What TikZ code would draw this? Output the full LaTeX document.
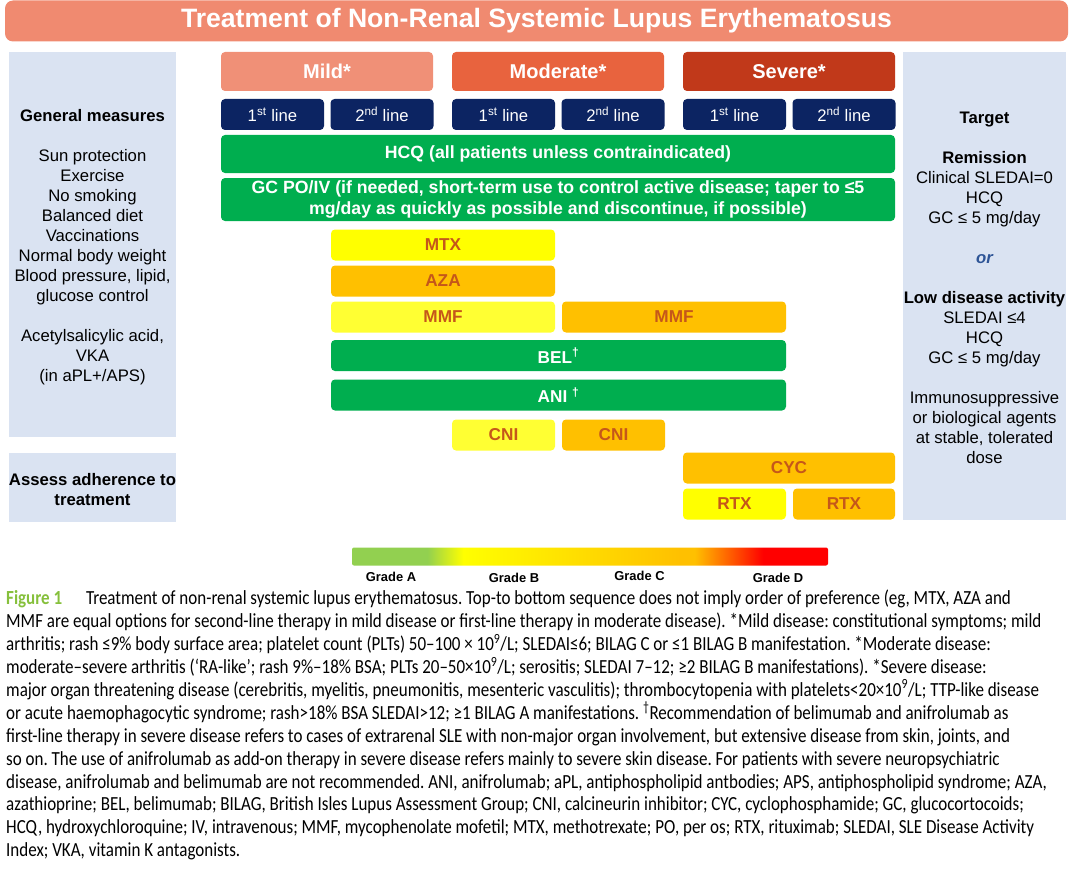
\documentclass[tikz,border=0pt]{standalone}
\usepackage{fontspec}
\setmainfont{Liberation Sans}
\newfontfamily\capfont[FakeStretch=0.85]{Carlito}
\usepackage{xcolor}
\definecolor{titlec}{HTML}{F08A70}
\definecolor{mildc}{HTML}{F09077}
\definecolor{moderatec}{HTML}{E8633E}
\definecolor{severec}{HTML}{C1391A}
\definecolor{navy}{HTML}{0C2462}
\definecolor{hcqgreen}{HTML}{00AE4F}
\definecolor{panelblue}{HTML}{DAE3F2}
\definecolor{gradeB}{HTML}{FFFF00}
\definecolor{gradeBl}{HTML}{FFFF33}
\definecolor{gradeC}{HTML}{FFC000}
\definecolor{gradeA}{HTML}{92D050}
\definecolor{drugtext}{HTML}{C5571A}
\definecolor{orblue}{HTML}{2E5597}
\definecolor{figgreen}{HTML}{86C03C}
\pgfdeclarehorizontalshading{gradescale}{100bp}{color(0bp)=(gradeA); color(32.9bp)=(gradeA); color(36.7bp)=(gradeB); color(59.5bp)=(gradeC); color(61bp)=(gradeC); color(68.2bp)=(red); color(100bp)=(red)}

\begin{document}
\begin{tikzpicture}[x=1pt,y=-1pt]
      \tikzstyle{every node}=[inner sep=0pt, font=\fontsize{16.7}{20}\selectfont]
      \tikzstyle{panel}=[fill=panelblue]
      \tikzstyle{head}=[rounded corners=4pt, text=white, minimum width=212pt, minimum height=39pt, font=\fontsize{20}{22}\selectfont\bfseries]
      \tikzstyle{lineno}=[rounded corners=4pt, fill=navy, text=white, minimum width=103pt, minimum height=31pt]
      \tikzstyle{therapy}=[rounded corners=4pt, fill=hcqgreen, text=white, minimum width=674pt, align=center, font=\fontsize{17.7}{21}\selectfont\bfseries]
      \tikzstyle{drug}=[rounded corners=4pt, text=drugtext, minimum height=31pt, font=\fontsize{17.2}{20}\selectfont\bfseries]
      \tikzstyle{grade}=[font=\fontsize{12.9}{14}\selectfont\bfseries]
      \useasboundingbox (0,0) rectangle (1073,872);

      \node[fill=titlec, rounded corners=8pt, minimum width=1063pt, minimum height=41pt, text=white, font=\fontsize{26.6}{28}\selectfont\bfseries] (title) at (536.5,21) {\raisebox{-1.5pt}{Treatment of Non-Renal Systemic Lupus Erythematosus}};

      \node[panel, minimum width=167pt, minimum height=385pt] (general) at (92.5,244.5) {};
      \node[align=center] (generaltext) at ([yshift=-3pt]general.center) {{\bfseries General measures}\\[20pt]
        Sun protection\\ Exercise\\ No smoking\\ Balanced diet\\ Vaccinations\\ Normal body weight\\ Blood pressure, lipid,\\ glucose control\\[20pt]
        Acetylsalicylic acid,\\ VKA\\ (in aPL+/APS)};
      \node[panel, minimum width=167pt, minimum height=69pt] (adherence) at (92.5,487.5) {};
      \node[align=center, font=\fontsize{16.7}{19.5}\selectfont\bfseries] (adherencetext) at ([yshift=-2pt]adherence.center) {Assess adherence to\\ treatment};
      \node[panel, minimum width=163pt, minimum height=468pt] (target) at (984.5,286) {};
      \node[align=center] (targettext) at ([yshift=-1.5pt]target.center) {{\bfseries Target}\\[20pt]
        {\bfseries Remission}\\ Clinical SLEDAI=0\\ HCQ\\ GC ≤ 5 mg/day\\[20pt]
        {\color{orblue}\bfseries\itshape or}\\[20pt]
        {\bfseries Low disease activity}\\ SLEDAI ≤4\\ HCQ\\ GC ≤ 5 mg/day\\[20pt]
        Immunosuppressive\\ or biological agents\\ at stable, tolerated\\ dose};

      \node[head, fill=mildc] (mild) at (327,71.5) {Mild*};
      \node[head, fill=moderatec] (moderate) at (558,71.5) {Moderate*};
      \node[head, fill=severec] (severe) at (789,71.5) {Severe*};
      \node[lineno] (mildA) at (272.5,114.5) {1\textsuperscript{st} line};
      \node[lineno] (mildB) at (382,114.5) {2\textsuperscript{nd} line};
      \node[lineno] (modA) at (503.5,114.5) {1\textsuperscript{st} line};
      \node[lineno] (modB) at (613,114.5) {2\textsuperscript{nd} line};
      \node[lineno] (sevA) at (734.5,114.5) {1\textsuperscript{st} line};
      \node[lineno] (sevB) at (844,114.5) {2\textsuperscript{nd} line};

      \node[therapy, minimum height=38pt] (hcq) at (558,154) {HCQ (all patients unless contraindicated)};
      \node[therapy, minimum height=43pt] (gc) at (558,199.5) {GC PO/IV (if needed, short-term use to control active disease; taper to ≤5\\ mg/day as quickly as possible and discontinue, if possible)};

      \node[drug, fill=gradeB, minimum width=224pt] (mtx) at (443,245) {MTX};
      \node[drug, fill=gradeC, minimum width=224pt] (aza) at (443,281) {AZA};
      \node[drug, fill=gradeBl, minimum width=224pt] (mmfA) at (443,317) {MMF};
      \node[drug, fill=gradeC, minimum width=224pt] (mmfB) at (674,317) {MMF};
      \node[drug, fill=hcqgreen, text=white, minimum width=455pt] (bel) at (558.5,355.5) {BEL\textsuperscript{†}};
      \node[drug, fill=hcqgreen, text=white, minimum width=455pt] (ani) at (558.5,395) {ANI \textsuperscript{†}};
      \node[drug, fill=gradeBl, minimum width=103pt] (cniA) at (503.5,435) {CNI};
      \node[drug, fill=gradeC, minimum width=103pt] (cniB) at (613.5,435) {CNI};
      \node[drug, fill=gradeC, minimum width=212pt] (cyc) at (789,468) {CYC};
      \node[drug, fill=gradeB, minimum width=103pt] (rtxA) at (734.5,504) {RTX};
      \node[drug, fill=gradeC, minimum width=102pt] (rtxB) at (844,504) {RTX};

      \node[shade, shading=gradescale, rounded corners=2pt, minimum width=476pt, minimum height=18pt] (scale) at (590,556.5) {};
      \node[grade] (gradeA) at (391,577) {Grade A};
      \node[grade] (gradeB) at (514,578) {Grade B};
      \node[grade] (gradeC) at (639.5,576) {Grade C};
      \node[grade] (gradeD) at (778,578) {Grade D};

      \node[anchor=north west, align=left, font=\capfont\fontsize{20}{22.9}\selectfont\frenchspacing] (caption) at (6,590) {{\color{figgreen}\bfseries Figure 1}\hspace{1em} Treatment of non-renal systemic lupus erythematosus. Top-to bottom sequence does not imply order of preference (eg, MTX, AZA and\\
        MMF are equal options for second-line therapy in mild disease or first-line therapy in moderate disease). *Mild disease: constitutional symptoms; mild\\
        arthritis; rash ≤9\% body surface area; platelet count (PLTs) 50–100 × 10\textsuperscript{9}/L; SLEDAI≤6; BILAG C or ≤1 BILAG B manifestation. *Moderate disease:\\
        moderate–severe arthritis (‘RA-like’; rash 9\%–18\% BSA; PLTs 20–50×10\textsuperscript{9}/L; serositis; SLEDAI 7–12; ≥2 BILAG B manifestations). *Severe disease:\\
        major organ threatening disease (cerebritis, myelitis, pneumonitis, mesenteric vasculitis); thrombocytopenia with platelets<20×10\textsuperscript{9}/L; TTP-like disease\\
        or acute haemophagocytic syndrome; rash>18\% BSA SLEDAI>12; ≥1 BILAG A manifestations. \textsuperscript{†}Recommendation of belimumab and anifrolumab as\\
        first-line therapy in severe disease refers to cases of extrarenal SLE with non-major organ involvement, but extensive disease from skin, joints, and\\
        so on. The use of anifrolumab as add-on therapy in severe disease refers mainly to severe skin disease. For patients with severe neuropsychiatric\\
        disease, anifrolumab and belimumab are not recommended. ANI, anifrolumab; aPL, antiphospholipid antbodies; APS, antiphospholipid syndrome; AZA,\\
        azathioprine; BEL, belimumab; BILAG, British Isles Lupus Assessment Group; CNI, calcineurin inhibitor; CYC, cyclophosphamide; GC, glucocortocoids;\\
        HCQ, hydroxychloroquine; IV, intravenous; MMF, mycophenolate mofetil; MTX, methotrexate; PO, per os; RTX, rituximab; SLEDAI, SLE Disease Activity\\
        Index; VKA, vitamin K antagonists.};
\end{tikzpicture}
\end{document}
